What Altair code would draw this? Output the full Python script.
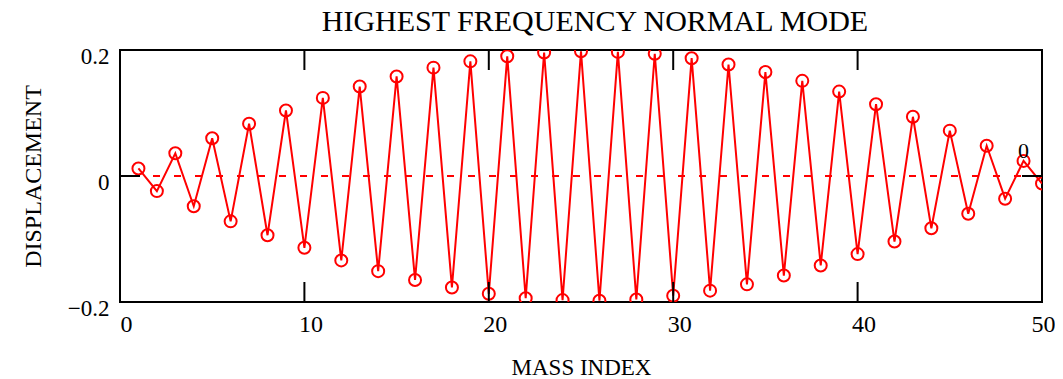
import altair as alt
import pandas as pd

# ---- data ----
mass_index = list(range(1, 51))
displacement = [
    0.012, -0.024, 0.036, -0.048, 0.060, -0.072, 0.083, -0.094, 0.104, -0.114,
    0.124, -0.134, 0.142, -0.151, 0.158, -0.165, 0.172, -0.177, 0.182, -0.187,
    0.190, -0.194, 0.196, -0.197, 0.198, -0.198, 0.197, -0.196, 0.194, -0.190,
    0.187, -0.182, 0.177, -0.172, 0.165, -0.158, 0.151, -0.142, 0.134, -0.124,
    0.114, -0.104, 0.094, -0.083, 0.072, -0.060, 0.048, -0.036, 0.024, -0.012,
]
x_tick_values = [0, 10, 20, 30, 40, 50]
inner_x_ticks = [10, 20, 30, 40]
y_tick_values = [-0.2, 0, 0.2]
marker_x = [49]
marker_y = [0.04]
marker_label = ["0"]
chart_title = ["HIGHEST FREQUENCY NORMAL MODE"]

W, H = 922, 252
FONT = "Liberation Serif"

df = pd.DataFrame({"x": mass_index, "y": displacement})
xt = pd.DataFrame({"x": inner_x_ticks})
yt = pd.DataFrame({"y": y_tick_values})
mk = pd.DataFrame({"x": marker_x, "y": marker_y, "t": marker_label})
tt = pd.DataFrame({"t": chart_title})

xscale = alt.Scale(domain=[0, 50], nice=False, zero=False)
yscale = alt.Scale(domain=[-0.2, 0.2], nice=False, zero=False)

xaxis = alt.Axis(
    values=x_tick_values, ticks=False, tickSize=0, domain=False, grid=False,
    labelFont=FONT, labelFontSize=24, labelPadding=10,
    labelOffset={"condition": {"test": "datum.value == 50", "value": 1}, "value": 6},
    labelBaseline="top", labelColor="black", format="d",
    labelFlush=False, labelOverlap=False,
    title="MASS INDEX", titleFont=FONT, titleFontSize=23, titleFontWeight="normal",
    titleColor="black", titleY=72, titleBaseline="alphabetic",
)
yaxis = alt.Axis(
    values=y_tick_values, ticks=False, tickSize=0, domain=False, grid=False,
    labelFont=FONT, labelFontSize=23, labelPadding=11, labelOffset=6,
    labelBaseline="middle", labelColor="black", format=".1~f",
    labelFlush=False, labelOverlap=False,
    title="DISPLACEMENT", titleFont=FONT, titleFontSize=24, titleFontWeight="normal",
    titleColor="black", titleX=-87, titleY=H / 2, titleAngle=-90,
    titleBaseline="middle", titleAlign="center",
)

xenc = alt.X("x:Q", scale=xscale, axis=xaxis)
yenc = alt.Y("y:Q", scale=yscale, axis=yaxis)

zero = alt.Chart(df).mark_rule(color="red", strokeDash=[7, 14], strokeWidth=1).encode(
    y=alt.datum(0)
)
line = alt.Chart(df).mark_line(color="red", strokeWidth=2, clip=True).encode(x=xenc, y=yenc)
pts = alt.Chart(df).mark_point(
    shape="circle", filled=False, color="red", size=144, strokeWidth=2, opacity=1, clip=True
).encode(x=xenc, y=yenc)

top_ticks = alt.Chart(xt).mark_rule(color="black", strokeWidth=2).encode(
    x=xenc, y=alt.value(0), y2=alt.value(20))
bot_ticks = alt.Chart(xt).mark_rule(color="black", strokeWidth=2).encode(
    x=xenc, y=alt.value(H - 20), y2=alt.value(H))
left_ticks = alt.Chart(yt).mark_rule(color="black", strokeWidth=2).encode(
    y=yenc, x=alt.value(0), x2=alt.value(20))
right_ticks = alt.Chart(yt).mark_rule(color="black", strokeWidth=2).encode(
    y=yenc, x=alt.value(W - 20), x2=alt.value(W))

marker = alt.Chart(mk).mark_text(font=FONT, fontSize=22, color="black").encode(
    x=xenc, y=yenc, text="t:N")

title = alt.Chart(tt).mark_text(
    font=FONT, fontSize=30, color="black", align="center", baseline="alphabetic"
).encode(text="t:N", x=alt.value(W / 2 + 14), y=alt.value(-19))

chart = alt.layer(
    zero, line, pts, top_ticks, bot_ticks, left_ticks, right_ticks, marker, title
).properties(
    width=W, height=H,
    padding={"left": 112, "top": 42, "right": 13, "bottom": 77},
    autosize=alt.AutoSizeParams(type="none"),
    background="white",
).configure_view(stroke="black", strokeWidth=2)

chart.save("out.html", embed_options={"renderer": "svg", "actions": False})
